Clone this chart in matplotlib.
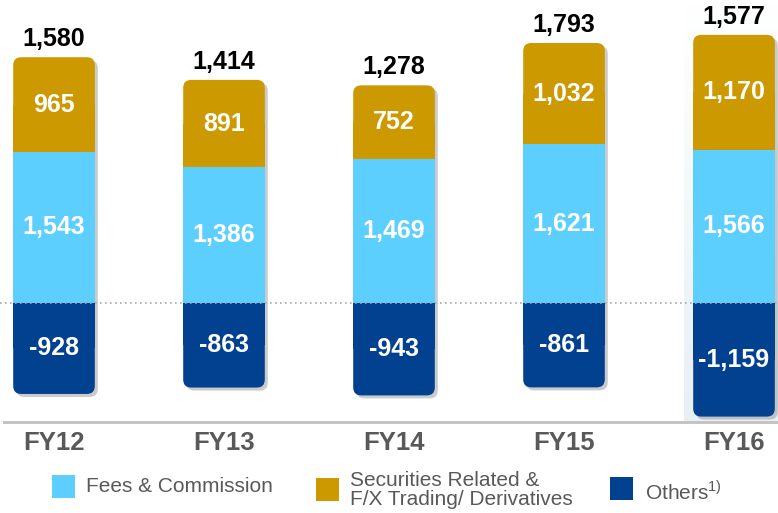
import numpy as np
import matplotlib
matplotlib.use("Agg")
import matplotlib.pyplot as plt
from matplotlib.patches import FancyBboxPatch, Rectangle
from matplotlib.colors import LinearSegmentedColormap
from matplotlib import transforms

plt.rcParams['font.family'] = ['Liberation Sans', 'DejaVu Sans']
plt.rcParams['mathtext.fontset'] = 'custom'
plt.rcParams['mathtext.rm'] = 'Liberation Sans'

# Data
years = ["FY12", "FY13", "FY14", "FY15", "FY16"]
fees = [1543, 1386, 1469, 1621, 1566]
securities = [965, 891, 752, 1032, 1170]
others = [-928, -863, -943, -861, -1159]
totals = [1580, 1414, 1278, 1793, 1577]

c_fees = "#5DCFFE"
c_sec = "#CC9900"
c_oth = "#02418F"
c_text = "#595959"

fig = plt.figure(figsize=(7.78, 5.13), dpi=100)
ax = fig.add_axes([0, 0, 1, 1])
W, H = 778, 513
zero_px = 303
px_x = 1 / 170   # x units per pixel
px_y = 1 / 0.098  # y units per pixel
ax.set_xlim(-54 * px_x, (W - 54) * px_x)
ax.set_ylim(-(H - zero_px) * px_y, zero_px * px_y)
ax.axis("off")

x = np.arange(len(years))
bw = 0.48
r = 8 * px_x
aspect = px_y / px_x
base_y = -(422 - zero_px) * px_y

# soft highlight behind the last year
grad = np.linspace(0, 1, 100).reshape(-1, 1)
cm = LinearSegmentedColormap.from_list("hl", ["#FFFFFF", "#E8F0F3"])
ax.imshow(grad, cmap=cm, aspect="auto", origin="upper",
          extent=(x[-1] - 50 * px_x, (W - 54) * px_x, base_y, zero_px * px_y), zorder=0)


def rbox(x0, y0, w, h, color, z, **kw):
    p = FancyBboxPatch((x0, y0), w, h, boxstyle=f"round,pad=0,rounding_size={r}",
                       mutation_aspect=aspect, facecolor=color, edgecolor="none",
                       zorder=z, **kw)
    ax.add_patch(p)
    return p


shadow_tr = transforms.offset_copy(ax.transData, fig=fig, x=3, y=-3, units="dots")
for i in range(len(years)):
    x0 = x[i] - bw / 2
    top = fees[i] + securities[i]
    bot = others[i]
    # shadow
    rbox(x0, bot, bw, top - bot, "#7F7F7F", 1, alpha=0.4, transform=shadow_tr)
    # securities (rounded top)
    rbox(x0, fees[i], bw, securities[i], c_sec, 2)
    ax.add_patch(Rectangle((x0, fees[i]), bw, securities[i] / 2, facecolor=c_sec,
                           edgecolor="none", zorder=2))
    # fees
    ax.add_patch(Rectangle((x0, 0), bw, fees[i], facecolor=c_fees, edgecolor="none", zorder=2))
    # others (rounded bottom)
    rbox(x0, bot, bw, -bot, c_oth, 2)
    ax.add_patch(Rectangle((x0, bot / 2), bw, -bot / 2, facecolor=c_oth,
                           edgecolor="none", zorder=2))

    ax.text(x[i], fees[i] + securities[i] / 2, f"{securities[i]:,}", ha="center", va="center",
            color="white", fontsize=18, fontweight="bold", zorder=4)
    ax.text(x[i], fees[i] / 2, f"{fees[i]:,}", ha="center", va="center",
            color="white", fontsize=18, fontweight="bold", zorder=4)
    ax.text(x[i], bot / 2, f"{bot:,}", ha="center", va="center",
            color="white", fontsize=18, fontweight="bold", zorder=4)
    ax.text(x[i], top + 11 * px_y, f"{totals[i]:,}", ha="center", va="baseline",
            color="black", fontsize=18, fontweight="bold", zorder=4)
    ax.text(x[i], base_y - 21 * px_y, years[i], ha="center", va="center",
            color=c_text, fontsize=18.5, fontweight="bold", zorder=4)

# zero line and baseline
ax.axhline(0, color="#AAAAAA", lw=1.2, ls=(0, (1, 2)), zorder=3)
ax.plot([-50 * px_x, (W - 54) * px_x], [base_y, base_y], color="#C0C0C0", lw=2, zorder=3)

# legend
def leg_box(xp, yp, color):
    fig.patches.append(Rectangle((xp / W, 1 - (yp + 23) / H), 23 / W, 23 / H,
                                 transform=fig.transFigure, facecolor=color, edgecolor="none"))

leg_box(52, 475, c_fees)
leg_box(316, 478, c_sec)
leg_box(610, 477, c_oth)
fig.text(86 / W, 1 - 486 / H, "Fees & Commission", fontsize=15, color=c_text, va="center")
fig.text(350 / W, 1 - 490 / H, "Securities Related &\nF/X Trading/ Derivatives", fontsize=15,
         color=c_text, va="center", linespacing=0.95)
fig.text(645 / W, 1 - 492 / H, r"Others$^{1)}$", fontsize=15, color=c_text, va="center")

fig.savefig("out.png", dpi=100)
